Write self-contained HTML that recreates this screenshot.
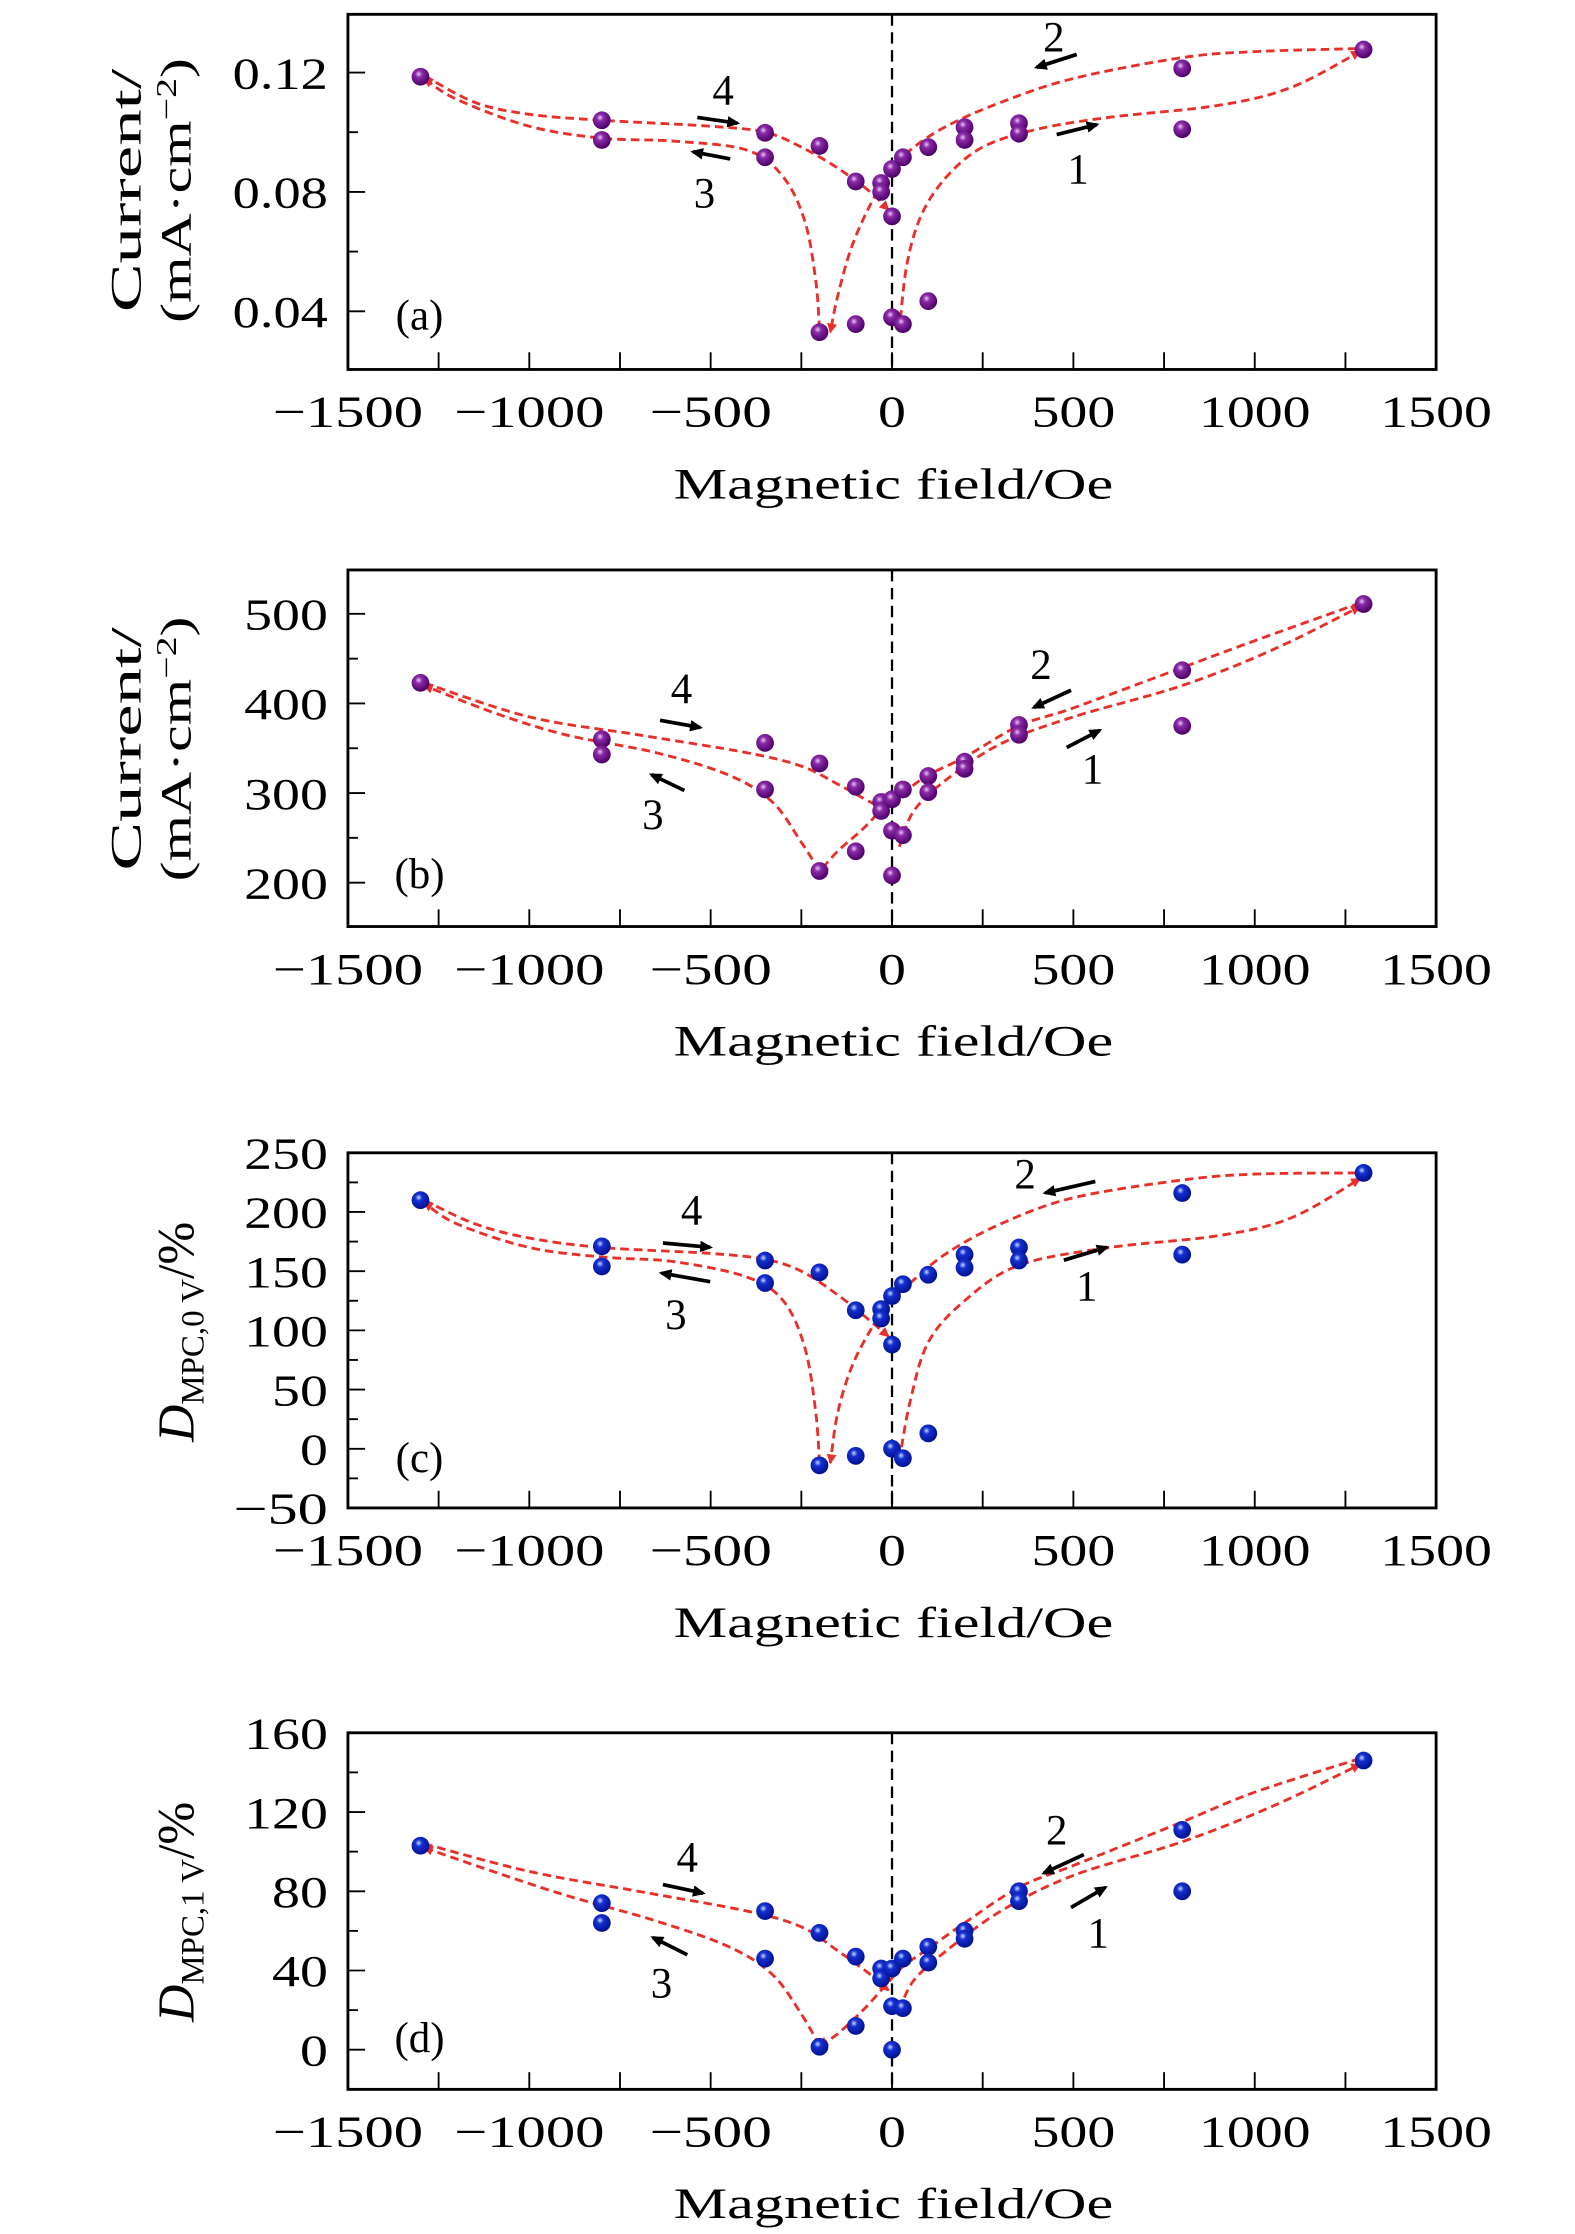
<!DOCTYPE html>
<html><head><meta charset="utf-8"><style>html,body{margin:0;padding:0;background:#fff}svg{display:block}text{font-family:"Liberation Serif",serif;fill:#000}</style></head>
<body>
<svg id="fig" width="1575" height="2234" viewBox="0 0 1100 1560" preserveAspectRatio="none" xmlns="http://www.w3.org/2000/svg">
<defs>
<radialGradient id="gp" cx="0.4" cy="0.35" r="0.65"><stop offset="0" stop-color="#e8c8f0"/><stop offset="0.3" stop-color="#8a2aa8"/><stop offset="1" stop-color="#4a0066"/></radialGradient>
<radialGradient id="gb" cx="0.4" cy="0.35" r="0.65"><stop offset="0" stop-color="#c8d8ff"/><stop offset="0.3" stop-color="#1530d0"/><stop offset="1" stop-color="#001090"/></radialGradient>
<marker id="ar" markerWidth="8" markerHeight="8" refX="6" refY="4" orient="auto" markerUnits="userSpaceOnUse"><path d="M0,0.5 L7,4 L0,7.5 Z" fill="#e8302a"/></marker>
<marker id="ak" markerWidth="10" markerHeight="10" refX="7" refY="5" orient="auto" markerUnits="userSpaceOnUse"><path d="M0,1 L9,5 L0,9 Z" fill="#000"/></marker>
</defs>
</svg>
<script>
// ---------- data ----------
const xTicks = [-1500,-1000,-500,0,500,1000,1500];
const xTickLabels = ["\u22121500","\u22121000","\u2212500","0","500","1000","1500"];

const aX = [-1300,-800,-800,-350,-350,-200,-200,-100,-100,-30,-30,0,0,0,30,30,100,100,200,200,350,350,800,800,1300];
const aY = [0.1186,0.104,0.0974,0.0998,0.0916,0.0954,0.033,0.0835,0.0357,0.083,0.080,0.0877,0.0718,0.038,0.0916,0.0357,0.095,0.0434,0.1017,0.0974,0.103,0.0995,0.1214,0.101,0.1277];
const aB1x=[20,40,80,150,250,400,600,900,1100,1290], aB1y=[0.033,0.055,0.072,0.085,0.095,0.101,0.105,0.109,0.115,0.127];
const aB2x=[1280,1000,800,500,300,150,50,0,-50,-110,-150,-170], aB2y=[0.128,0.127,0.125,0.118,0.110,0.102,0.094,0.087,0.078,0.062,0.045,0.033];
const aB3x=[-200,-210,-240,-300,-400,-600,-800,-1000,-1200,-1290], aB3y=[0.034,0.050,0.070,0.085,0.094,0.097,0.098,0.102,0.111,0.118];
const aB4x=[-1290,-1150,-1000,-800,-500,-350,-250,-150,-60,-10], aB4y=[0.119,0.110,0.106,0.104,0.102,0.100,0.095,0.088,0.080,0.074];

const bX = [-1300,-800,-800,-350,-350,-200,-200,-100,-100,-30,-30,0,0,0,30,30,100,100,200,200,350,350,800,800,1300];
const bY = [423,360,343,356,304,333,213,307,235,290,280,293,258,208,304,253,319,301,335,327,376,365,437,375,511];
const bB1x=[20,60,150,300,500,800,1050,1290], bB1y=[240,280,315,355,385,420,460,508];
const bB2x=[1290,1000,800,500,350,200,100,30,-20,-80,-150,-200], bB2y=[512,470,440,395,375,340,320,300,285,260,235,212];
const bB3x=[-200,-250,-330,-450,-650,-900,-1100,-1290], bB3y=[213,245,290,320,345,365,390,420];
const bB4x=[-1290,-1000,-700,-400,-250,-150,-60,-10], bB4y=[423,385,365,345,330,310,290,280];

const cX = aX;
const cY = [210,171,154,159,140,149,-14,117,-6,118,110,129,88,0,139,-8,147,13,164,153,170,159,216,164,233];
const cB1x=[20,50,100,200,350,600,900,1100,1290], cB1y=[-10,40,90,125,155,170,180,195,228];
const cB2x=[1280,1000,800,500,300,150,50,0,-50,-110,-150,-170], cB2y=[233,232,227,212,190,165,140,125,105,70,30,-12];
const cB3x=[-200,-210,-240,-300,-400,-600,-800,-1000,-1200,-1290], cB3y=[-12,30,85,125,145,158,162,170,190,208];
const cB4x=[-1290,-1150,-1000,-800,-500,-350,-250,-150,-60,-10], cB4y=[210,190,178,170,165,160,150,130,108,95];

const dX = aX;
const dY = [103,74,64,70,46,59,1.5,47,12,41,36,41,22,0,46,21,52,44,60,56,80,75,111,80,146];
const dB1x=[20,60,150,300,500,800,1050,1290], dB1y=[20,35,50,70,88,105,123,144];
const dB2x=[1290,1000,800,500,350,200,100,30,-20,-80,-150,-200], dB2y=[147,130,115,93,82,64,51,42,32,20,8,2];
const dB3x=[-200,-250,-330,-450,-650,-900,-1100,-1290], dB3y=[2,18,38,52,65,78,90,102];
const dB4x=[-1290,-1000,-700,-400,-250,-150,-60,-10], dB4y=[104,90,80,70,62,50,38,30];

const aYT=[0.04,0.08,0.12], aYL=["0.04","0.08","0.12"], aYM=[0.06,0.10];
const bYT=[200,300,400,500], bYL=["200","300","400","500"], bYM=[250,350,450];
const cYT=[-50,0,50,100,150,200,250], cYL=["\u221250","0","50","100","150","200","250"], cYM=[-25,25,75,125,175,225];
const dYT=[0,40,80,120,160], dYL=["0","40","80","120","160"], dYM=[-20,20,60,100,140];

// ---------- drawing ----------
const NS="http://www.w3.org/2000/svg";
const svg=document.getElementById('fig');
function mk(tag,attrs,parent){const e=document.createElementNS(NS,tag);for(const k in attrs)e.setAttribute(k,attrs[k]);(parent||svg).appendChild(e);return e;}
function lblLen(s){let w=0;for(const ch of s){w+=ch==='.'?8:(ch==='\u2212'?27:19.5);}return w;}
const L=243,R=1003;
function crPath(pts){let d="M"+pts[0][0]+","+pts[0][1];for(let i=0;i<pts.length-1;i++){const p0=pts[Math.max(0,i-1)],p1=pts[i],p2=pts[i+1],p3=pts[Math.min(pts.length-1,i+2)];const c1=[p1[0]+(p2[0]-p0[0])/6,p1[1]+(p2[1]-p0[1])/6],c2=[p2[0]-(p3[0]-p1[0])/6,p2[1]-(p3[1]-p1[1])/6];d+=" C"+c1+" "+c2+" "+p2;}return d;}

function panel(cfg){
  const g=mk('g',{});
  
  
  const T=cfg.top,B=cfg.bot;
  const sx=v=>L+(v+1500)/3000*(R-L);
  const sy=v=>B-(v-cfg.ymin)/(cfg.ymax-cfg.ymin)*(B-T);
  const z=mk('line',{x1:sx(0),x2:sx(0),y1:T,y2:B,stroke:'#000','stroke-width':1.6,'stroke-dasharray':'8 4.5'},g);
  
  
  for(let v=-1500;v<=1500;v+=250){const t=mk('line',{x1:sx(v),x2:sx(v),y1:B,y2:B-12,stroke:'#000','stroke-width':1.3},g);}
  xTicks.forEach((v,i)=>{const t=mk('text',{x:sx(v),y:B+40,'font-size':31,'text-anchor':'middle',textLength:lblLen(xTickLabels[i]),lengthAdjust:'spacingAndGlyphs'},g);t.textContent=xTickLabels[i];});
  cfg.yt.forEach((v,i)=>{const t=mk('line',{x1:L,x2:L+12,y1:sy(v),y2:sy(v),stroke:'#000','stroke-width':1.3},g);
    const tl=mk('text',{x:229,y:sy(v)+11,'font-size':31,'text-anchor':'end',textLength:lblLen(cfg.yl[i]),lengthAdjust:'spacingAndGlyphs'},g);tl.textContent=cfg.yl[i];});
  cfg.ym.forEach(v=>{const t=mk('line',{x1:L,x2:L+7,y1:sy(v),y2:sy(v),stroke:'#000','stroke-width':1.3},g);});
  const f=mk('rect',{x:L,y:T,width:R-L,height:B-T,fill:'none',stroke:'#000','stroke-width':2},g);
  
  
  cfg.br.forEach((b,k)=>{const pts=b[0].map((x,i)=>[sx(x),sy(b[1][i])]);const p=mk('path',{d:crPath(pts),fill:'none',stroke:'#e8302a','stroke-width':2,'stroke-dasharray':'6 3.5','marker-end':'url(#ar)'},g);});
  cfg.px.forEach((x,i)=>{const c=mk('circle',{cx:sx(x),cy:sy(cfg.py[i]),r:6.2,fill:cfg.grad},g);});
  cfg.ann.forEach(a=>{const t=mk('text',{x:a[0],y:a[1],'font-size':30,'text-anchor':'middle'},g);t.textContent=a[2];
    const l=mk('line',{x1:a[3],y1:a[4],x2:a[5],y2:a[6],stroke:'#000','stroke-width':2.6,'marker-end':'url(#ak)'},g);});
  const pl=mk('text',{x:293,y:cfg.lab,'font-size':30,'text-anchor':'middle'},g);pl.textContent='('+cfg.id+')';
  const xt=mk('text',{x:624,y:B+90,'font-size':30,'text-anchor':'middle',textLength:307,lengthAdjust:'spacingAndGlyphs'},g);xt.textContent='Magnetic field/Oe';
  return {g,T,B};
}

function ytitleCurrent(cy,g){
  const t=mk('text',{transform:`translate(98,${cy}) rotate(-90)`,'font-size':30,'text-anchor':'middle',textLength:170,lengthAdjust:'spacingAndGlyphs'},g);t.textContent='Current/';
  const u=mk('text',{transform:`translate(133,${cy}) rotate(-90)`,'font-size':30,'text-anchor':'middle',textLength:185,lengthAdjust:'spacingAndGlyphs'},g);u.innerHTML='(mA·cm<tspan dy="-10" font-size="20">\u22122</tspan><tspan dy="10">)</tspan>';
}
function ytitleD(cy,sub,g){
  const t=mk('text',{transform:`translate(135,${cy}) rotate(-90)`,'font-size':36,'text-anchor':'middle'},g);
  t.innerHTML='<tspan font-style="italic">D</tspan><tspan font-size="23" dy="7">MPC,'+sub+' V</tspan><tspan dy="-7">/%</tspan>';
  
  
}

const pa=panel({id:'a',top:10,bot:258,ymin:0.0205,ymax:0.1395,yt:aYT,yl:aYL,ym:aYM,px:aX,py:aY,grad:'url(#gp)',lab:230,
  br:[[aB1x,aB1y],[aB2x,aB2y],[aB3x,aB3y],[aB4x,aB4y]],
  ann:[[736,36,'2',752,38,724,47],[505,73,'4',487,82,515,86],[492,145,'3',510,111,484,106],[753,128,'1',738,94,766,87]]});
ytitleCurrent(133,pa.g);
const pb=panel({id:'b',top:398,bot:647,ymin:151,ymax:549,yt:bYT,yl:bYL,ym:bYM,px:bX,py:bY,grad:'url(#gp)',lab:620,
  br:[[bB1x,bB1y],[bB2x,bB2y],[bB3x,bB3y],[bB4x,bB4y]],
  ann:[[727,474,'2',748,482,722,494],[476,491,'4',461,503,489,508],[456,579,'3',478,552,455,541],[763,547,'1',745,522,768,510]]});
ytitleCurrent(523,pb.g);
const pc=panel({id:'c',top:805,bot:1053,ymin:-50,ymax:250,yt:cYT,yl:cYL,ym:cYM,px:cX,py:cY,grad:'url(#gb)',lab:1028,
  br:[[cB1x,cB1y],[cB2x,cB2y],[cB3x,cB3y],[cB4x,cB4y]],
  ann:[[716,830,'2',765,825,730,833],[483,855,'4',463,868,496,871],[472,928,'3',496,895,462,889],[759,908,'1',743,880,773,871]]});
ytitleD(930,'0',pc.g);
const pd=panel({id:'d',top:1210,bot:1459,ymin:-20,ymax:160,yt:dYT,yl:dYL,ym:dYM,px:dX,py:dY,grad:'url(#gb)',lab:1433,
  br:[[dB1x,dB1y],[dB2x,dB2y],[dB3x,dB3y],[dB4x,dB4y]],
  ann:[[738,1288,'2',757,1295,729,1308],[480,1307,'4',463,1316,491,1322],[462,1395,'3',480,1365,456,1353],[767,1360,'1',748,1332,772,1318]]});
ytitleD(1335,'1',pd.g);
</script>
</body></html>
